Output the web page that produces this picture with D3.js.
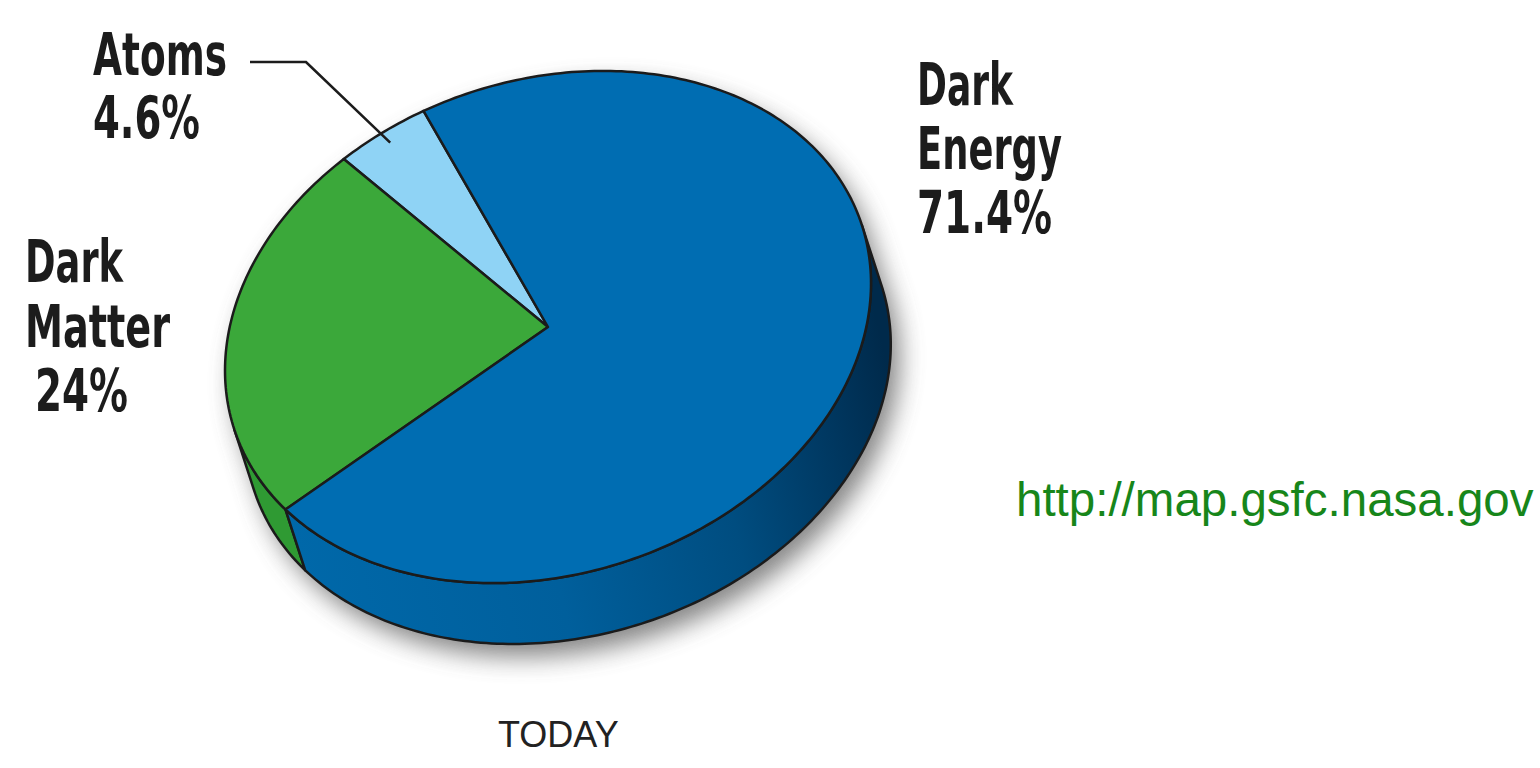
<!DOCTYPE html>
<html>
<head>
<meta charset="utf-8">
<script src="https://cdn.jsdelivr.net/npm/d3@7"></script>
<style>
  html, body { margin: 0; padding: 0; background: #ffffff; }
  svg { display: block; }
</style>
</head>
<body>
<svg id="chart" width="1540" height="768"></svg>
<script>
// ---------------- data ----------------
const categories = ["Atoms", "Dark Matter", "Dark Energy"];
const values = [4.6, 24, 71.4];
const labelLines = [["Atoms", "4.6%"], ["Dark", "Matter", "24%"], ["Dark", "Energy", "71.4%"]];
const sourceText = "http://map.gsfc.nasa.gov";
const captionText = "TODAY";

// ---------------- layout ----------------
const W = 1540, H = 768;
const cx = 548, cy = 327;          // centre of the top face
const rx = 330, ry = 247;          // semi-axes of the top ellipse
const tilt = -18 * Math.PI / 180;  // rotation of the ellipse
const depth = 64;                  // thickness of the disc
const T0 = -99 * Math.PI / 180;    // parametric angle where the first slice starts
const ct = Math.cos(tilt), st = Math.sin(tilt);
const D = [-st * depth, ct * depth];

const topColors = { "Atoms": "#8fd3f5", "Dark Matter": "#3ba83a", "Dark Energy": "#006db2" };
const sideColors = { "Atoms": "#6fb8dd", "Dark Matter": "#2f9a33", "Dark Energy": "url(#sideBlue)" };
const strokeCol = "#1b1b1b";

const svg = d3.select("#chart");
const defs = svg.append("defs");

const grad = defs.append("linearGradient").attr("id", "sideBlue")
  .attr("gradientUnits", "userSpaceOnUse")
  .attr("x1", 300).attr("y1", 560).attr("x2", 900).attr("y2", 420);
[[0, "#0068a9"], [0.4, "#005f9c"], [0.7, "#004d80"], [0.9, "#00365e"], [1, "#002a4b"]]
  .forEach(([o, c]) => grad.append("stop").attr("offset", o).attr("stop-color", c));

const blur = defs.append("filter").attr("id", "shadow")
  .attr("x", "-20%").attr("y", "-20%").attr("width", "140%").attr("height", "140%");
blur.append("feGaussianBlur").attr("stdDeviation", 12);

// point on the (possibly shifted / scaled) ellipse at parametric angle t
function pt(t, off = [0, 0], k = 1) {
  const ex = rx * k * Math.cos(t), ey = ry * k * Math.sin(t);
  return [cx + ct * ex - st * ey + off[0], cy + st * ex + ct * ey + off[1]];
}
function arcPts(t1, t2, off) {
  const n = Math.max(2, Math.ceil(Math.abs(t2 - t1) / (Math.PI / 180)));
  return d3.range(n + 1).map(i => pt(t1 + (t2 - t1) * i / n, off));
}

const pie = d3.pie().sort(null).startAngle(0).endAngle(2 * Math.PI)
  .value(d => d.value);
const data = categories.map((c, i) => ({ cat: c, value: values[i], lines: labelLines[i] }));
const arcs = pie(data).map(a => ({ ...a, tA: T0 - a.endAngle, tB: T0 - a.startAngle }));

const line = d3.line();

// ---------------- shadow ----------------
const sh = svg.append("g").attr("filter", "url(#shadow)")
  .attr("transform", "translate(9,13)").attr("opacity", 0.7);
const full = d3.range(0, 361).map(d => d * Math.PI / 180);
sh.append("path").attr("d", line(full.map(t => pt(t))) + "Z").attr("fill", "#555");
sh.append("path").attr("d", line(full.map(t => pt(t, D))) + "Z").attr("fill", "#555");
sh.append("path").attr("d", line([...arcPts(0, Math.PI), ...arcPts(Math.PI, 0, D)]) + "Z").attr("fill", "#555");

// ---------------- sides ----------------
const sides = [];
arcs.forEach(a => {
  for (let k = -3; k <= 3; k++) {
    const lo = Math.max(a.tA, 2 * Math.PI * k), hi = Math.min(a.tB, 2 * Math.PI * k + Math.PI);
    if (hi > lo) sides.push({ a, lo, hi });
  }
});
svg.append("g").selectAll("path").data(sides).join("path")
  .attr("d", s => line([...arcPts(s.lo, s.hi), ...arcPts(s.hi, s.lo, D)]) + "Z")
  .attr("fill", s => sideColors[s.a.data.cat])
  .attr("stroke", strokeCol).attr("stroke-width", 2.5).attr("stroke-linejoin", "round");

// ---------------- top face ----------------
svg.append("g").selectAll("path").data(arcs).join("path")
  .attr("d", a => line([[cx, cy], ...arcPts(a.tA, a.tB)]) + "Z")
  .attr("fill", a => topColors[a.data.cat])
  .attr("stroke", strokeCol).attr("stroke-width", 2.5).attr("stroke-linejoin", "round");

// ---------------- labels ----------------
const labelFont = "'Liberation Sans Narrow', 'DejaVu Sans Condensed', 'Arial Narrow', sans-serif";
const labelPos = { "Atoms": [93, 75], "Dark Matter": [25, 282], "Dark Energy": [917, 105] };
const lineGap = { "Atoms": 63, "Dark Matter": 64.5, "Dark Energy": 64 };
const lineWidths = { "Atoms": [134, 107], "Dark Matter": [98, 145, 93], "Dark Energy": [96, 145, 135] };
const lineDx = { "Atoms": [0, 0], "Dark Matter": [0, 0, 10], "Dark Energy": [0, 0, 0] };

arcs.forEach(a => {
  const c = a.data.cat;
  const [x0, y0] = labelPos[c];
  const t = svg.append("text").attr("font-family", labelFont).attr("font-weight", 700)
    .attr("font-size", 58).attr("fill", "#1c1c1c");
  a.data.lines.forEach((s, i) => {
    t.append("tspan").attr("x", x0 + lineDx[c][i]).attr("y", y0 + i * lineGap[c])
      .attr("textLength", lineWidths[c][i]).attr("lengthAdjust", "spacingAndGlyphs")
      .text(s);
  });
});

// leader line for Atoms
const atoms = arcs.find(a => a.data.cat === "Atoms");
const tm = (atoms.tA + atoms.tB) / 2;
const tip = pt(tm, [0, 0], 0.95);
svg.append("path").attr("d", line([[250, 62], [306, 62], tip]))
  .attr("fill", "none").attr("stroke", "#1c1c1c").attr("stroke-width", 2.6);

// source & caption
svg.append("text").attr("x", 1016).attr("y", 516)
  .attr("font-family", "'Liberation Sans', Arial, sans-serif").attr("font-size", 47.5)
  .attr("fill", "#17861a").text(sourceText);
svg.append("text").attr("x", 498).attr("y", 747)
  .attr("font-family", "'Liberation Sans', Arial, sans-serif").attr("font-size", 36)
  .attr("fill", "#222").text(captionText);
</script>
</body>
</html>
